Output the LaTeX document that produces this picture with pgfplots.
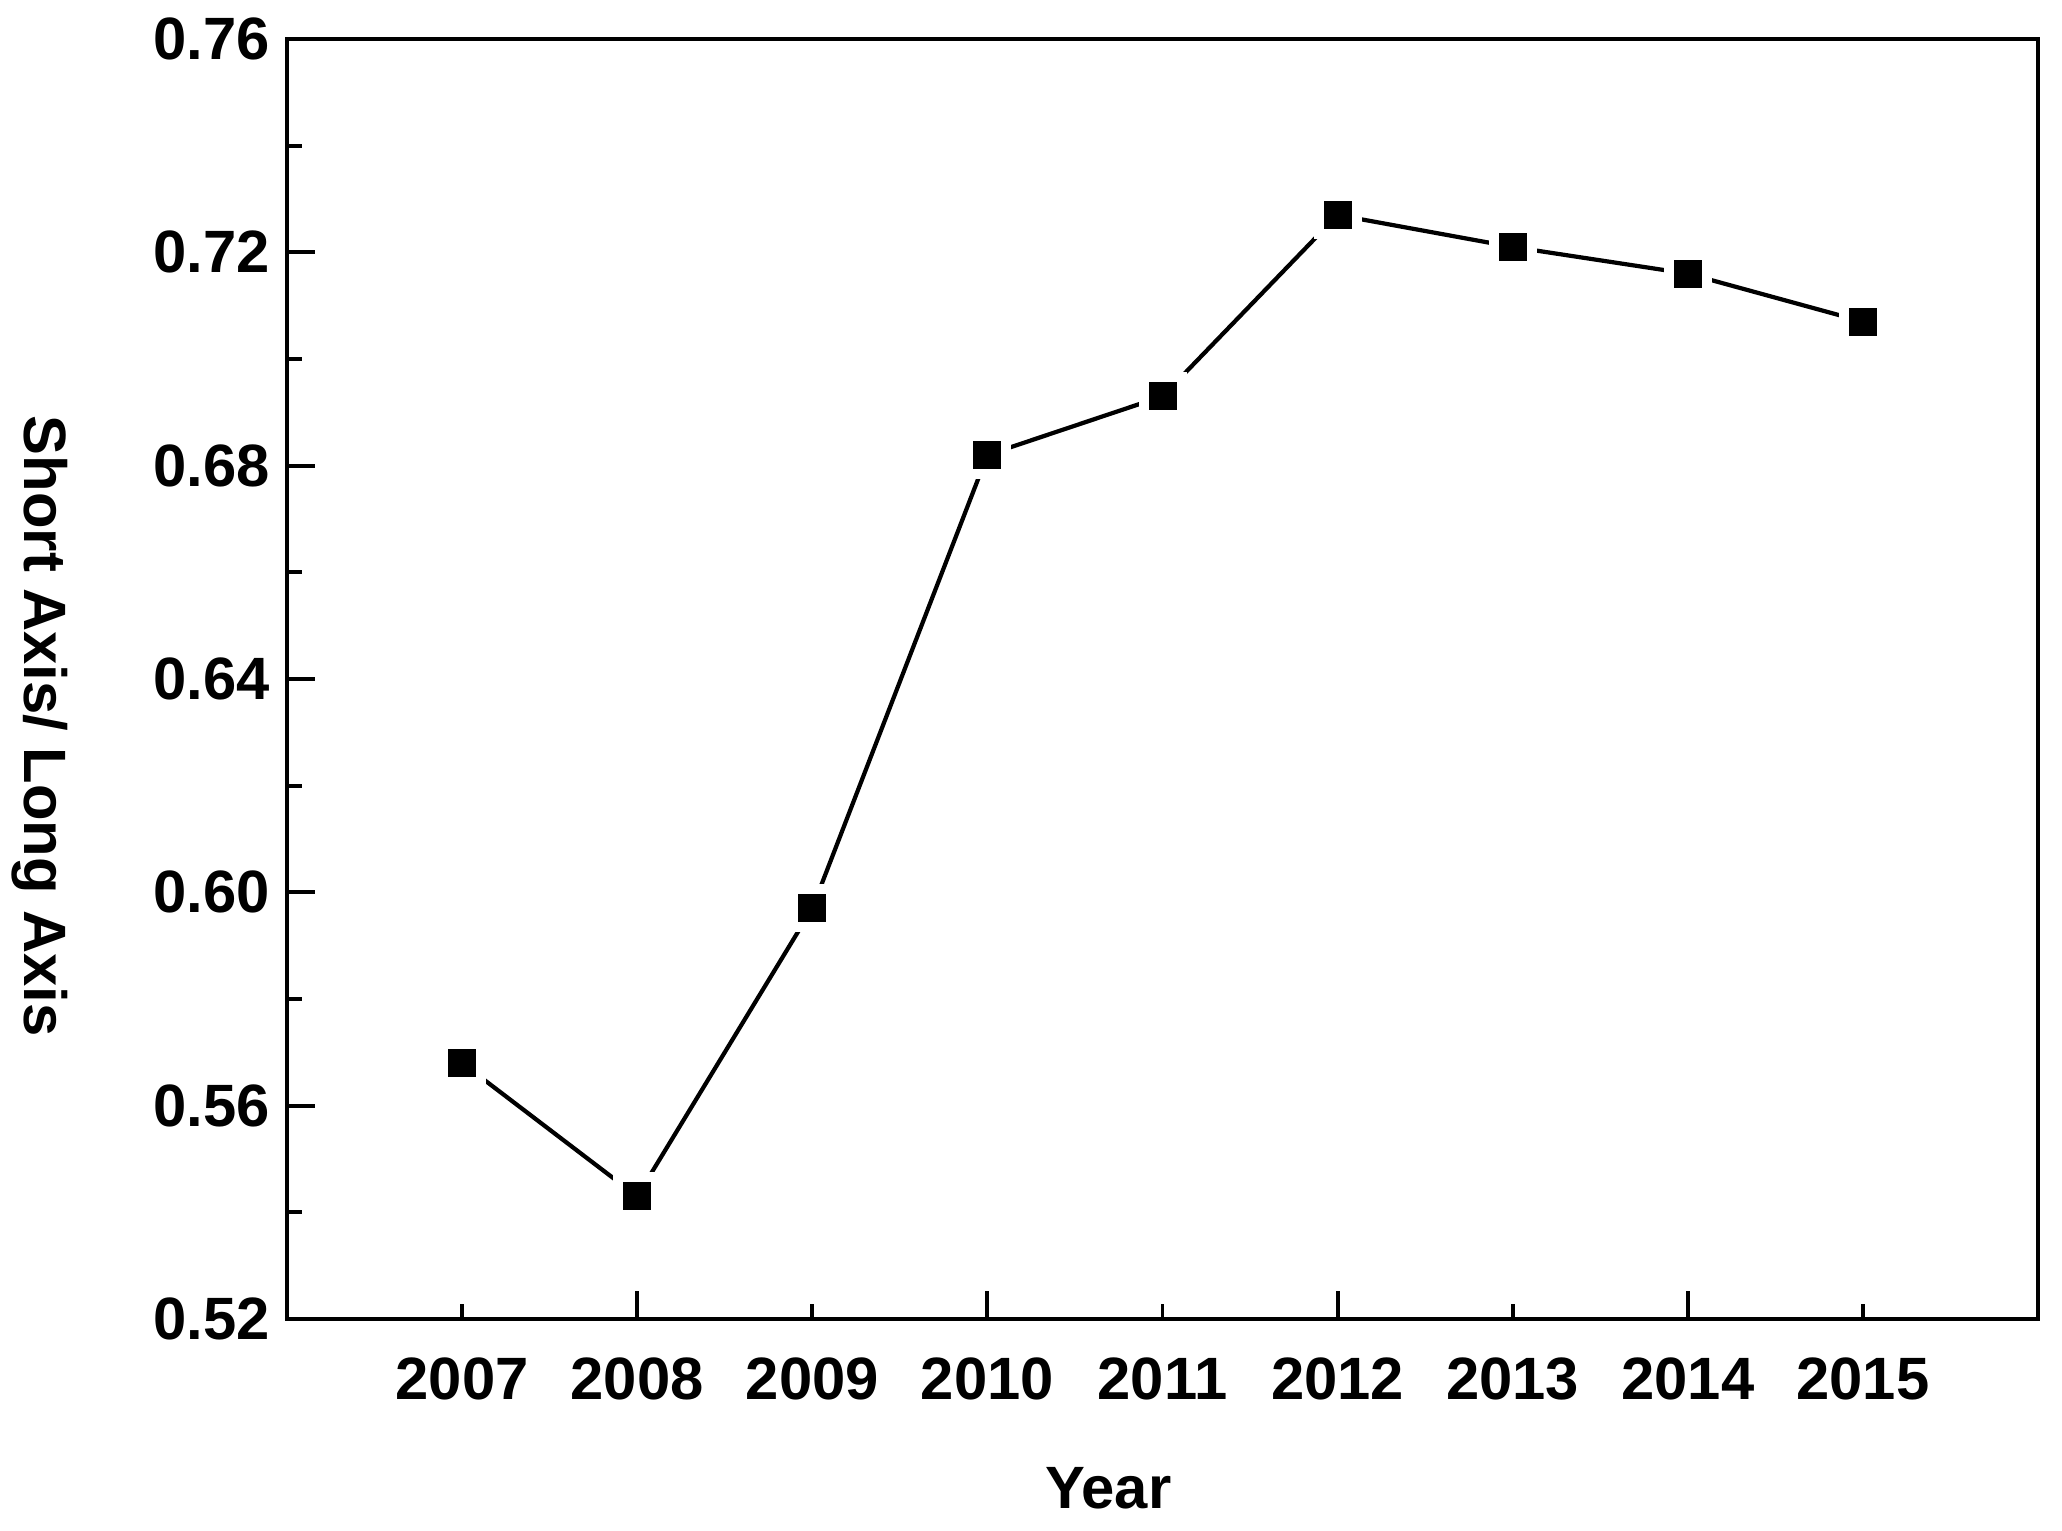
\documentclass[border=0pt]{standalone}
\usepackage{pgfplots}
\pgfplotsset{compat=1.18}
\usepackage{fontspec}
\setmainfont{Liberation Sans}
\begin{document}
\begin{tikzpicture}
\begin{axis}[
  scale only axis,
  width=175.1mm, height=128mm,
  xmin=2006, xmax=2016,
  ymin=0.52, ymax=0.76,
  axis line style={line width=1.4pt},
  tick align=inside,
  tick pos=left,
  major tick length=2.8mm,
  minor tick length=1.5mm,
  every tick/.style={line width=1.1pt, black},
  xtick={2008,2010,2012,2014},
  extra x ticks={2007,2009,2011,2013,2015},
  extra x tick style={major tick length=1.5mm},
  ytick={0.52,0.56,0.60,0.64,0.68,0.72,0.76},
  minor y tick num=1,
  font=\fontsize{17}{20}\selectfont\bfseries,
  /pgf/number format/assume math mode=true,
  x tick label style={/pgf/number format/1000 sep={}, yshift=-2.6mm},
  y tick label style={/pgf/number format/.cd, fixed, fixed zerofill, precision=2, /tikz/.cd, xshift=-0.5mm},
  xlabel={Year},
  xlabel style={at={(axis description cs:0.469,-0.1477)}, anchor=base},
  ylabel={Short Axis/ Long Axis},
  ylabel style={at={(axis description cs:-0.141,0.463)}, anchor=center, rotate=180},
]
\coordinate (sw) at (rel axis cs:0,0);
\coordinate (ne) at (rel axis cs:1,1);
\addplot[black, line width=1.2pt, mark=none] coordinates {
(2007,0.568) (2008,0.543) (2009,0.597) (2010,0.682) (2011,0.693)
(2012,0.727) (2013,0.721) (2014,0.716) (2015,0.707)
};
\addplot[only marks, mark=square*, mark size=1.9mm, mark options={fill=black, draw=white, line width=1.0mm}] coordinates {
(2007,0.568) (2008,0.543) (2009,0.597) (2010,0.682) (2011,0.693)
(2012,0.727) (2013,0.721) (2014,0.716) (2015,0.707)
};
\end{axis}
\pgfresetboundingbox
\path ([shift={(-28.7mm,-21.1mm)}]sw) rectangle ([shift={(2.4mm,3.9mm)}]ne);
\end{tikzpicture}
\end{document}
